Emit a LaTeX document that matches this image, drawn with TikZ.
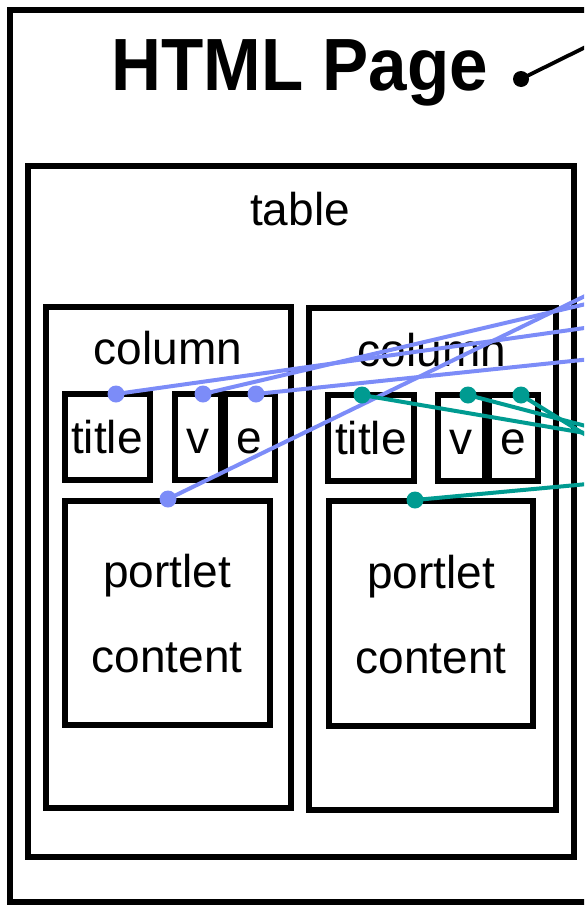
\documentclass[tikz,border=0pt]{standalone}
\usepackage{fontspec}
\setmainfont{Liberation Sans}
\definecolor{cblue}{RGB}{124,140,248}
\definecolor{cteal}{RGB}{0,155,145}
\begin{document}
\begin{tikzpicture}[x=1pt,y=-1pt,
  box/.style={draw,line width=6pt,inner sep=0pt,outer sep=0pt},
  lbl/.style={font=\fontsize{46}{50}\selectfont,inner sep=0pt,anchor=base},
  bwire/.style={cblue,line width=4pt},
  twire/.style={cteal,line width=4pt},
  kwire/.style={black,line width=3.8pt},
  bdot/.style={circle,fill=cblue,inner sep=0pt,minimum size=17pt},
  tdot/.style={circle,fill=cteal,inner sep=0pt,minimum size=17pt},
  kdot/.style={circle,fill=black,inner sep=0pt,minimum size=16pt}]
\useasboundingbox (0,0) rectangle (584,905);
\clip (0,0) rectangle (584,905);
% boxes
\node[box,minimum width=690pt,minimum height=892pt] (page) at (355,456) {};
\node[box,minimum width=546pt,minimum height=691pt] (table) at (301,511.5) {};
\node[box,minimum width=245pt,minimum height=501pt] (col1) at (168,557.5) {};
\node[box,minimum width=247pt,minimum height=501.5pt] (col2) at (432.5,558.75) {};
\node[box,minimum width=85pt,minimum height=86pt] (t1) at (107,437) {};
\node[box,minimum width=46pt,minimum height=86pt] (v1) at (197.5,437) {};
\node[box,minimum width=50pt,minimum height=86pt] (e1) at (249.5,437) {};
\node[box,minimum width=205pt,minimum height=224pt] (p1) at (167,612.5) {};
\node[box,minimum width=86pt,minimum height=86pt] (t2) at (371,438) {};
\node[box,minimum width=47pt,minimum height=86pt] (v2) at (461,438) {};
\node[box,minimum width=49pt,minimum height=86pt] (e2) at (513,438) {};
\node[box,minimum width=204pt,minimum height=225pt] (p2) at (431,613.5) {};
% labels
\node[inner sep=0pt,anchor=base west,font=\fontsize{74}{80}\selectfont\bfseries] (title) at (111,90) {\scalebox{0.935}[1]{HTML Page}};
\node[lbl] (ltable) at (300,225) {table};
\node[lbl] (lcol1) at (168,364) {column};
\node[lbl] (lcol2) at (432,366) {column};
\node[lbl] (lt1) at (107,453) {title};
\node[lbl] (lv1) at (197.5,453) {v};
\node[lbl] (le1) at (249.5,453) {e};
\node[lbl] (lp1a) at (167,587) {portlet};
\node[lbl] (lp1b) at (167,672) {content};
\node[lbl] (lt2) at (371,454) {title};
\node[lbl] (lv2) at (461,454) {v};
\node[lbl] (le2) at (513,454) {e};
\node[lbl] (lp2a) at (431,588) {portlet};
\node[lbl] (lp2b) at (431,673) {content};
% anchor points
\coordinate (dk) at (521,79);
\coordinate (ok) at (620,30);
\coordinate (dt1) at (116,394);
\coordinate (dv1) at (203,394);
\coordinate (de1) at (256,394);
\coordinate (dp1) at (168,499);
\coordinate (dt2) at (362,395);
\coordinate (dv2) at (468,395);
\coordinate (de2) at (521,395);
\coordinate (dp2) at (415,500);
\coordinate (ot1) at (620,323);
\coordinate (ov1) at (620,296);
\coordinate (oe1) at (620,356);
\coordinate (op1) at (620,279);
\coordinate (ot2) at (620,439);
\coordinate (ov2) at (620,435);
\coordinate (oe2) at (620,456);
\coordinate (op2) at (620,481);
% wires
\draw[kwire] (dk) -- (ok);
\draw[bwire] (dt1) -- (ot1);
\draw[bwire] (dv1) -- (ov1);
\draw[bwire] (de1) -- (oe1);
\draw[bwire] (dp1) -- (op1);
\draw[twire] (dt2) -- (ot2);
\draw[twire] (dv2) -- (ov2);
\draw[twire] (de2) -- (oe2);
\draw[twire] (dp2) -- (op2);
% dots
\node[kdot] (nk) at (dk) {};
\node[bdot] (nt1) at (dt1) {};
\node[bdot] (nv1) at (dv1) {};
\node[bdot] (ne1) at (de1) {};
\node[bdot] (np1) at (dp1) {};
\node[tdot] (nt2) at (dt2) {};
\node[tdot] (nv2) at (dv2) {};
\node[tdot] (ne2) at (de2) {};
\node[tdot] (np2) at (dp2) {};
\end{tikzpicture}
\end{document}
